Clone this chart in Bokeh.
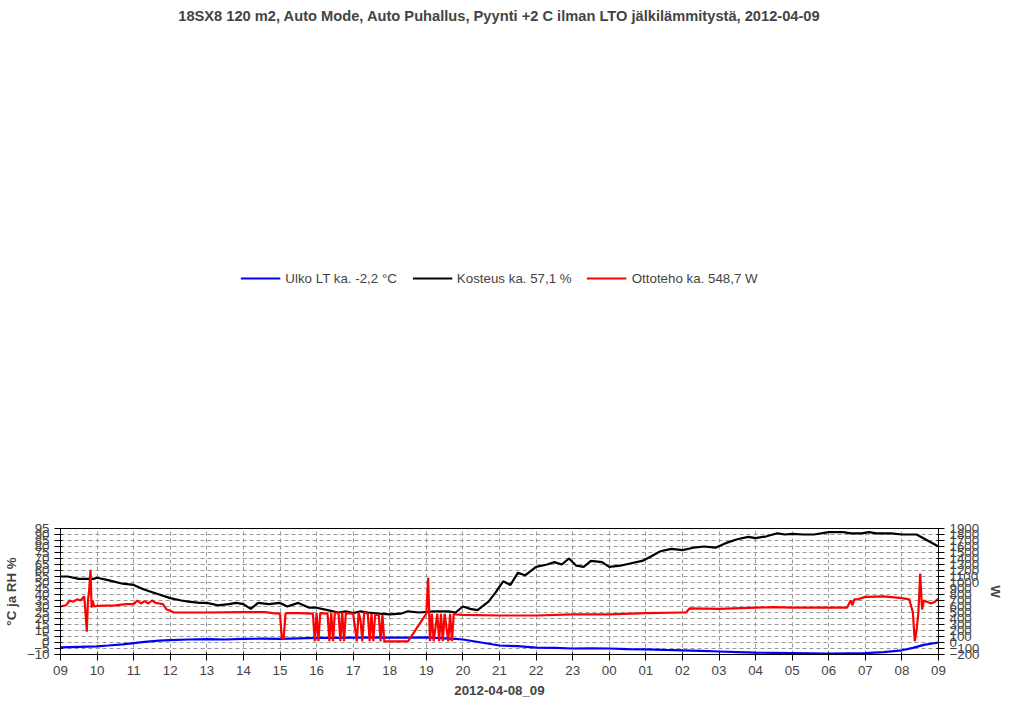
from bokeh.plotting import figure
from bokeh.models import Range1d, LinearAxis, FixedTicker, Legend, LegendItem
from bokeh.embed import file_html
from bokeh.resources import INLINE

hour_labels = ["09","10","11","12","13","14","15","16","17","18","19","20","21","22","23","00","01","02","03","04","05","06","07","08","09"]

ulko_x = [0,0.5,1,1.3,1.7,2,2.3,2.7,3,3.5,4,4.5,5,5.5,6,6.5,7,7.5,8,8.5,9,9.5,10,10.5,10.8,11,11.5,12,12.5,13,13.5,14,14.5,15,15.5,16,16.5,17,17.5,18,18.5,19,19.5,20,20.5,21,21.5,22,22.5,23,23.3,23.6,24]
ulko_y = [-4,-3.6,-3.2,-2.5,-1.5,-0.5,0.5,1.5,2,2.5,2.8,2.5,3,3.2,3,3.5,3.8,3.8,4,4.2,4.0,4.0,4.2,3.5,3.0,2.5,0,-2.5,-3,-4.2,-4.5,-5,-4.8,-5,-5.5,-5.8,-6.2,-6.5,-7,-7.5,-8,-8.5,-8.6,-8.8,-9,-9.2,-9,-8.8,-8,-6.5,-4.5,-2,0]

rh_x = [0,0.2,0.5,0.9,1,1.3,1.7,2,2.3,2.7,3,3.3,3.5,3.8,4,4.3,4.6,4.8,5,5.2,5.4,5.7,6,6.2,6.5,6.8,7,7.3,7.6,7.8,8,8.2,8.4,8.7,9,9.3,9.5,9.8,10.2,10.6,10.8,11,11.2,11.4,11.7,11.9,12.1,12.3,12.5,12.7,13,13.3,13.5,13.7,13.9,14.1,14.3,14.5,14.8,15,15.3,15.6,15.9,16.1,16.4,16.7,17,17.3,17.6,17.9,18.2,18.5,18.8,19,19.3,19.6,19.8,20,20.3,20.6,21,21.4,21.6,21.9,22.1,22.3,22.7,23,23.4,24]
rh_y = [55,55,53,53,54,52,49,48,44,40,37,35,34,33,33,31,32,33,32,28,33,32,33,30,33,29,29,27,25,26,24.5,26,25,24,23.5,24,26,25,26,26,25,30,28,27,34,42,51,48,58,56,63,65,67,65,70,64,63,68,67,63,64,66,68,71,76,78,77,79,80,79,83,86,88,87,88.5,91,90,90.5,90,90,92,92,91,91,92,91,91,90,90,80]

otto_x = [0,0.15,0.25,0.35,0.45,0.55,0.65,0.72,0.75,0.78,0.82,0.85,0.88,0.92,1.0,1.5,1.8,2.0,2.1,2.2,2.3,2.4,2.5,2.6,2.7,2.8,2.9,3.0,3.1,4.0,5.0,5.6,5.8,6.0,6.05,6.1,6.15,6.2,6.5,6.9,6.95,7.0,7.05,7.1,7.3,7.35,7.4,7.45,7.5,7.6,7.65,7.7,7.75,7.8,8.0,8.1,8.15,8.2,8.25,8.3,8.4,8.45,8.5,8.55,8.6,8.7,8.75,8.8,8.85,8.9,9.0,9.05,9.1,9.15,9.2,9.25,9.3,9.35,9.4,9.45,9.5,10.0,10.05,10.1,10.15,10.2,10.3,10.35,10.4,10.45,10.5,10.6,10.65,10.7,10.75,10.8,11.0,12.0,13.0,14.0,15.0,16.0,17.0,17.1,17.2,18.0,19.0,19.5,20.0,21.5,21.6,21.65,21.7,21.8,22.0,22.5,23.0,23.2,23.3,23.35,23.4,23.45,23.5,23.55,23.6,23.8,23.9,24.0]
otto_w = [600,620,700,680,720,700,770,180,700,850,1210,580,700,600,610,620,640,640,700,650,690,650,700,660,650,640,550,530,500,500,505,505,490,480,70,70,480,490,490,480,20,490,20,490,480,20,500,20,500,490,20,510,20,490,480,20,500,380,20,500,480,20,480,20,460,460,20,460,20,20,20,20,20,20,20,20,20,20,20,20,20,480,1080,20,480,20,480,20,480,20,480,20,480,20,480,470,460,450,450,470,470,490,500,500,570,560,580,590,580,580,700,620,720,720,760,770,740,720,500,20,200,500,1150,550,700,650,680,730]

p = figure(width=1005, height=700, x_range=Range1d(0, 24), y_range=Range1d(-10, 95),
           output_backend="svg", toolbar_location=None,
           title="18SX8 120 m2, Auto Mode, Auto Puhallus, Pyynti +2 C ilman LTO jälkilämmitystä, 2012-04-09")
p.title.align = "center"
p.title.text_font = "Liberation Sans"
p.title.text_font_size = "11pt"
p.extra_y_ranges = {"w": Range1d(-200, 1900)}

p.xaxis.ticker = FixedTicker(ticks=list(range(25)))
p.xaxis.major_label_overrides = {i: hour_labels[i] for i in range(25)}
p.xaxis.axis_label = "2012-04-08_09"
p.yaxis.ticker = FixedTicker(ticks=list(range(-10, 96, 5)))
p.yaxis.axis_label = "°C ja RH %"
ax2 = LinearAxis(y_range_name="w", ticker=FixedTicker(ticks=list(range(-200, 1901, 100))), axis_label="W")
p.add_layout(ax2, "right")
for ax in [p.xaxis[0], p.yaxis[0], ax2]:
    ax.major_label_text_font = "Liberation Sans"
    ax.major_label_text_font_size = "10pt"
    ax.axis_label_text_font = "Liberation Sans"
    ax.axis_label_text_font_size = "10pt"
    ax.axis_label_text_font_style = "bold"
    ax.minor_tick_line_color = None
p.xgrid.grid_line_color = "#999999"
p.ygrid.grid_line_color = "#999999"
p.xgrid.grid_line_dash = "4 3"
p.ygrid.grid_line_dash = "4 3"
p.outline_line_color = "black"

r1 = p.line(ulko_x, ulko_y, color="blue", line_width=2.2)
r2 = p.line(rh_x, rh_y, color="black", line_width=2.2)
r3 = p.line(otto_x, otto_w, color="red", line_width=2.2, y_range_name="w")

leg = Legend(items=[LegendItem(label="Ulko LT ka. -2,2 °C", renderers=[r1]),
                    LegendItem(label="Kosteus ka. 57,1 %", renderers=[r2]),
                    LegendItem(label="Ottoteho ka. 548,7 W", renderers=[r3])],
             orientation="horizontal", location="top_center", border_line_color=None,
             label_text_font="Liberation Sans", label_text_font_size="10pt",
             glyph_width=40, glyph_height=14, label_height=14, padding=2, margin=0, spacing=15)
p.add_layout(leg, "above")

open("out.html", "w").write(file_html(p, INLINE))
